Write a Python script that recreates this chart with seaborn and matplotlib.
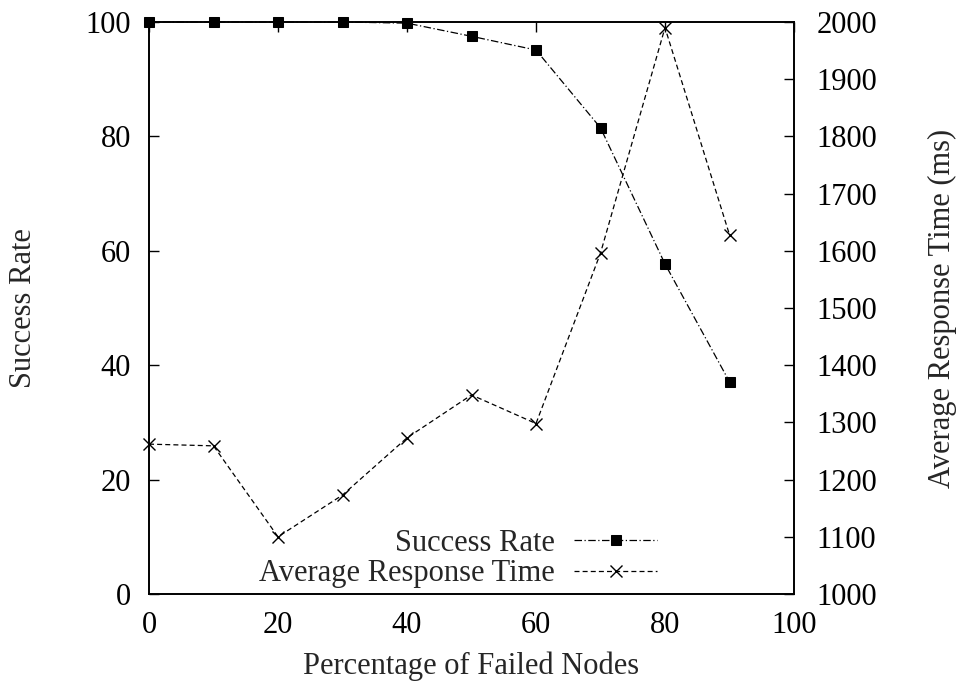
import matplotlib
matplotlib.use("Agg")
import matplotlib.pyplot as plt
import seaborn as sns
import pandas as pd

failed_pct = [0, 10, 20, 30, 40, 50, 60, 70, 80, 90]
success_rate = [100, 100, 100, 100, 99.8, 97.5, 95.1, 81.5, 57.7, 37.1]
response_time = [1262, 1259, 1100, 1173, 1273, 1348, 1298, 1596, 1990, 1628]

sns.set_theme(style="white")
plt.rcParams['font.family'] = ['Liberation Serif', 'DejaVu Serif']

df = pd.DataFrame({"x": failed_pct, "sr": success_rate, "rt": response_time})

fig = plt.figure(figsize=(9.59, 6.9), dpi=100)
ax = fig.add_axes([149 / 959, 96 / 690, 645 / 959, 572 / 690])
ax2 = ax.twinx()

sns.lineplot(data=df, x="x", y="sr", ax=ax, color="black", linestyle=(0, (6, 2, 1, 2)),
             linewidth=0.9, marker="s", markersize=6.5, markeredgecolor="black",
             markerfacecolor="black", label="Success Rate", legend=False, clip_on=False, zorder=5)
sns.lineplot(data=df, x="x", y="rt", ax=ax2, color="black", linestyle=(0, (4, 2.5)),
             linewidth=0.9, marker="x", markersize=8, markeredgewidth=1.0,
             markeredgecolor="black",
             label="Average Response Time", legend=False, clip_on=False)

fs = 22
ax.set_xlim(0, 100)
ax.set_ylim(0, 100)
ax2.set_ylim(1000, 2000)
ax.set_xticks(range(0, 101, 20))
ax.set_yticks(range(0, 101, 20))
ax2.set_yticks(range(1000, 2001, 100))
ax.set_xlabel("Percentage of Failed Nodes", fontsize=fs)
ax.set_ylabel("Success Rate", fontsize=fs)
ax2.set_ylabel("Average Response Time (ms)", fontsize=fs)
ax.xaxis.set_label_coords(0.5, -0.101)
ax.yaxis.set_label_coords(-0.172, 0.5)
ax2.yaxis.set_label_coords(1.208, 0.5)

ax.tick_params(axis="x", direction="in", length=7, width=1, top=True, labelsize=fs, pad=12, colors="black")
ax.tick_params(axis="y", direction="in", length=7, width=1, labelsize=fs, pad=13, colors="black")
ax2.tick_params(axis="y", direction="in", length=7, width=1, labelsize=fs, pad=16, colors="black")
for a in (ax, ax2):
    for s in a.spines.values():
        s.set_color("black")
        s.set_linewidth(1.2)

h1, l1 = ax.get_legend_handles_labels()
h2, l2 = ax2.get_legend_handles_labels()
leg = ax2.legend(h1 + h2, l1 + l2, loc="lower right", bbox_to_anchor=(0.816, -0.022),
                 frameon=False, markerfirst=False, fontsize=fs, handlelength=2.7,
                 handletextpad=0.65, labelspacing=0.05, borderaxespad=0.2)

fig.savefig("out.png", dpi=100)
